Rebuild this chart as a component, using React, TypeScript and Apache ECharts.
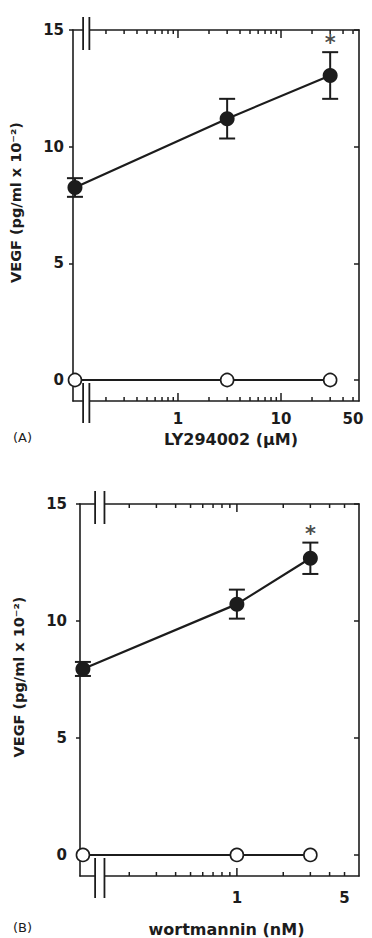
import React, { useEffect, useRef } from "react";
import * as echarts from "echarts";

// ---------- data ----------
// Panel A: LY294002 (µM); dose 0 = untreated control, drawn left of the axis break
const lyDoses = [0, 3, 30];
const lyTreated = [8.25, 11.2, 13.05];
const lyTreatedErr = [0.4, 0.85, 1.0];
const lyControl = [0, 0, 0];
const lySignificant = [false, false, true];
const lyMajorTicks = [1, 10];
const lyMinorTicks = [0.2, 0.3, 0.4, 0.5, 0.6, 0.7, 0.8, 0.9, 2, 3, 4, 5, 6, 7, 8, 9, 20, 30, 40, 50];
const lyTickLabels = [1, 10, 50];

// Panel B: wortmannin (nM)
const wmDoses = [0, 1, 3];
const wmTreated = [7.95, 10.72, 12.68];
const wmTreatedErr = [0.3, 0.62, 0.67];
const wmControl = [0, 0, 0];
const wmSignificant = [false, false, true];
const wmMajorTicks = [1];
const wmMinorTicks = [0.2, 0.3, 0.4, 0.5, 0.6, 0.7, 0.8, 0.9, 2, 3, 4, 5];
const wmTickLabels = [1, 5];

const yTickLabels = [0, 5, 10, 15];
const CONTROL_POS = 0.1; // plotting position of the 0-dose control
const BREAK_AT = [0.12, 0.138]; // axis break marks (dose units)

// ---------- styling ----------
const FONT = "'DejaVu Sans', Verdana, sans-serif";
const INK = "#1c1c1c";
const Y_MIN = -0.9;
const Y_MAX = 15;

const lg = (d: number) => Math.log10(d === 0 ? CONTROL_POS : d);

type Panel = {
  tag: string;
  xName: string;
  doses: number[];
  treated: number[];
  err: number[];
  control: number[];
  sig: boolean[];
  major: number[];
  minor: number[];
  labels: number[];
  grid: { left: number; top: number; width: number; height: number };
  xMin: number;
  xMax: number;
  xLabelMargin: number;
  xNameGap: number;
  xNameShift: number;
  yLabelMargin: number;
  yNameGap: number;
  tagTop: number;
};

const panels: Panel[] = [
  {
    tag: "(A)",
    xName: "LY294002 (μM)",
    doses: lyDoses,
    treated: lyTreated,
    err: lyTreatedErr,
    control: lyControl,
    sig: lySignificant,
    major: lyMajorTicks,
    minor: lyMinorTicks,
    labels: lyTickLabels,
    grid: { left: 73, top: 30, width: 286, height: 371 },
    xMin: -1.019,
    xMax: 1.757,
    xLabelMargin: 10,
    xNameGap: 30,
    xNameShift: 30,
    yLabelMargin: 9,
    yNameGap: 50,
    tagTop: 431,
  },
  {
    tag: "(B)",
    xName: "wortmannin (nM)",
    doses: wmDoses,
    treated: wmTreated,
    err: wmTreatedErr,
    control: wmControl,
    sig: wmSignificant,
    major: wmMajorTicks,
    minor: wmMinorTicks,
    labels: wmTickLabels,
    grid: { left: 80, top: 504, width: 279, height: 374 },
    xMin: -1.019,
    xMax: 0.793,
    xLabelMargin: 14,
    xNameGap: 45,
    xNameShift: 14,
    yLabelMargin: 13,
    yNameGap: 54,
    tagTop: 921,
  },
];

function tickSeries(vals: number[], len: number, xi: number, yi: number, name: string) {
  return {
    type: "custom",
    name,
    xAxisIndex: xi,
    yAxisIndex: yi,
    silent: true,
    clip: false,
    data: vals.map((v) => [lg(v), Y_MIN]),
    encode: { x: 0, y: 1 },
    renderItem: (_params: any, api: any) => {
      const x = api.value(0);
      const b = api.coord([x, Y_MIN]);
      const t = api.coord([x, Y_MAX]);
      const st = { stroke: INK, lineWidth: 1.5 };
      return {
        type: "group",
        children: [
          { type: "line", shape: { x1: b[0], y1: b[1], x2: b[0], y2: b[1] - len }, style: st },
          { type: "line", shape: { x1: t[0], y1: t[1], x2: t[0], y2: t[1] + len }, style: st },
        ],
      };
    },
    z: 2,
  };
}

function buildOption() {
  const grid: any[] = [];
  const xAxis: any[] = [];
  const yAxis: any[] = [];
  const series: any[] = [];
  const lineStyle = { color: INK, width: 1.6 };

  panels.forEach((p, i) => {
    grid.push({ ...p.grid, containLabel: false });
    const baseX = {
      type: "value",
      gridIndex: i,
      min: p.xMin,
      max: p.xMax,
      splitLine: { show: false },
      axisLine: { show: true, onZero: false, lineStyle },
      axisTick: { show: false },
    };
    xAxis.push({
      ...baseX,
      position: "bottom",
      axisLabel: {
        show: true,
        customValues: p.labels.map(lg),
        formatter: (v: number) => String(Math.round(Math.pow(10, v))),
        margin: p.xLabelMargin,
        color: INK,
        fontFamily: FONT,
        fontWeight: "bold",
        fontSize: 15,
      },
      name: p.xName,
      nameLocation: "middle",
      nameGap: p.xNameGap,
      nameTextStyle: {
        color: INK,
        fontFamily: FONT,
        fontWeight: "bold",
        fontSize: 16,
        padding: [0, 0, 0, p.xNameShift],
      },
    });
    xAxis.push({ ...baseX, position: "top", axisLabel: { show: false } });

    const baseY = {
      type: "value",
      gridIndex: i,
      min: Y_MIN,
      max: Y_MAX,
      splitLine: { show: false },
      axisLine: { show: true, onZero: false, lineStyle },
    };
    yAxis.push({
      ...baseY,
      position: "left",
      axisTick: {
        show: true,
        inside: false,
        length: 4,
        customValues: yTickLabels,
        lineStyle: { color: INK, width: 1.5 },
      },
      axisLabel: {
        show: true,
        customValues: yTickLabels,
        margin: p.yLabelMargin,
        color: INK,
        fontFamily: FONT,
        fontWeight: "bold",
        fontSize: 15,
      },
      name: "VEGF (pg/ml x 10⁻²)",
      nameLocation: "middle",
      nameGap: p.yNameGap,
      nameTextStyle: {
        color: INK,
        fontFamily: FONT,
        fontWeight: "bold",
        fontSize: 14.5,
        padding: [0, 0, 0, 26],
      },
    });
    yAxis.push({
      ...baseY,
      position: "right",
      axisTick: {
        show: true,
        inside: true,
        length: 5,
        customValues: yTickLabels,
        lineStyle: { color: INK, width: 1.5 },
      },
      axisLabel: { show: false },
    });

    const xi = i * 2;
    const yi = i * 2;
    const xs = p.doses.map(lg);

    series.push(tickSeries(p.major, 8, xi, yi, `${p.tag} major ticks`));
    series.push(tickSeries(p.minor, 4, xi, yi, `${p.tag} minor ticks`));

    // untreated (open circles)
    series.push({
      type: "line",
      name: `${p.tag} control`,
      xAxisIndex: xi,
      yAxisIndex: yi,
      data: xs.map((x, k) => [x, p.control[k]]),
      symbol: "circle",
      symbolSize: 13,
      lineStyle: { color: INK, width: 2 },
      itemStyle: { color: "#ffffff", borderColor: INK, borderWidth: 1.6 },
      z: 4,
    });
    // error bars
    series.push({
      type: "custom",
      name: `${p.tag} error`,
      xAxisIndex: xi,
      yAxisIndex: yi,
      data: xs.map((x, k) => [x, p.treated[k], p.err[k]]),
      encode: { x: 0, y: 1 },
      renderItem: (_params: any, api: any) => {
        const x = api.value(0);
        const y = api.value(1);
        const e = api.value(2);
        const top = api.coord([x, y + e]);
        const bot = api.coord([x, y - e]);
        const w = 8;
        const st = { stroke: INK, lineWidth: 2 };
        return {
          type: "group",
          children: [
            { type: "line", shape: { x1: top[0], y1: top[1], x2: bot[0], y2: bot[1] }, style: st },
            { type: "line", shape: { x1: top[0] - w, y1: top[1], x2: top[0] + w, y2: top[1] }, style: st },
            { type: "line", shape: { x1: bot[0] - w, y1: bot[1], x2: bot[0] + w, y2: bot[1] }, style: st },
          ],
        };
      },
      z: 3,
    });
    // treated (filled circles)
    series.push({
      type: "line",
      name: `${p.tag} treated`,
      xAxisIndex: xi,
      yAxisIndex: yi,
      data: xs.map((x, k) => [x, p.treated[k]]),
      symbol: "circle",
      symbolSize: 15,
      lineStyle: { color: INK, width: 2.2 },
      itemStyle: { color: INK, borderColor: INK, borderWidth: 0 },
      z: 5,
    });
    // significance asterisks
    series.push({
      type: "scatter",
      name: `${p.tag} significance`,
      xAxisIndex: xi,
      yAxisIndex: yi,
      data: xs
        .map((x, k) => (p.sig[k] ? [x, p.treated[k] + p.err[k]] : null))
        .filter((d) => d !== null),
      symbolSize: 1,
      itemStyle: { color: "rgba(0,0,0,0)" },
      label: {
        show: true,
        position: "top",
        distance: -2,
        formatter: "*",
        color: INK,
        fontFamily: FONT,
        fontWeight: "bold",
        fontSize: 21,
      },
      z: 6,
    });
  });

  return {
    animation: false,
    backgroundColor: "#ffffff",
    grid,
    xAxis,
    yAxis,
    series,
  };
}

export default function App() {
  const ref = useRef<HTMLDivElement>(null);
  useEffect(() => {
    if (!ref.current) return;
    const chart = echarts.init(ref.current, undefined, { renderer: "svg" });
    chart.setOption(buildOption());

    const graphic: any[] = [];
    panels.forEach((p, i) => {
      const xi = i * 2;
      const yi = i * 2;
      const yTop = chart.convertToPixel({ yAxisIndex: yi }, Y_MAX) as number;
      const yBot = chart.convertToPixel({ yAxisIndex: yi }, Y_MIN) as number;
      const b = BREAK_AT.map((d) => chart.convertToPixel({ xAxisIndex: xi }, lg(d)) as number);
      [yTop, yBot].forEach((yy) => {
        graphic.push({
          type: "rect",
          shape: { x: b[0], y: yy - 3, width: b[1] - b[0], height: 6 },
          style: { fill: "#ffffff" },
          z: 50,
        });
      });
      b.forEach((bx) => {
        graphic.push({
          type: "line",
          shape: { x1: bx, y1: yTop - 13, x2: bx, y2: yTop + 20 },
          style: { stroke: INK, lineWidth: 1.8 },
          z: 51,
        });
        graphic.push({
          type: "line",
          shape: { x1: bx, y1: yBot - 18, x2: bx, y2: yBot + 22 },
          style: { stroke: INK, lineWidth: 1.8 },
          z: 51,
        });
      });
      graphic.push({
        type: "text",
        left: 13,
        top: p.tagTop,
        style: {
          text: p.tag,
          fill: INK,
          font: `13px ${FONT}`,
        },
        z: 51,
      });
    });
    chart.setOption({ graphic });

    return () => chart.dispose();
  }, []);

  return (
    <div
      ref={ref}
      style={{ position: "fixed", left: 0, top: 0, width: 372, height: 938, background: "#fff" }}
    />
  );
}
